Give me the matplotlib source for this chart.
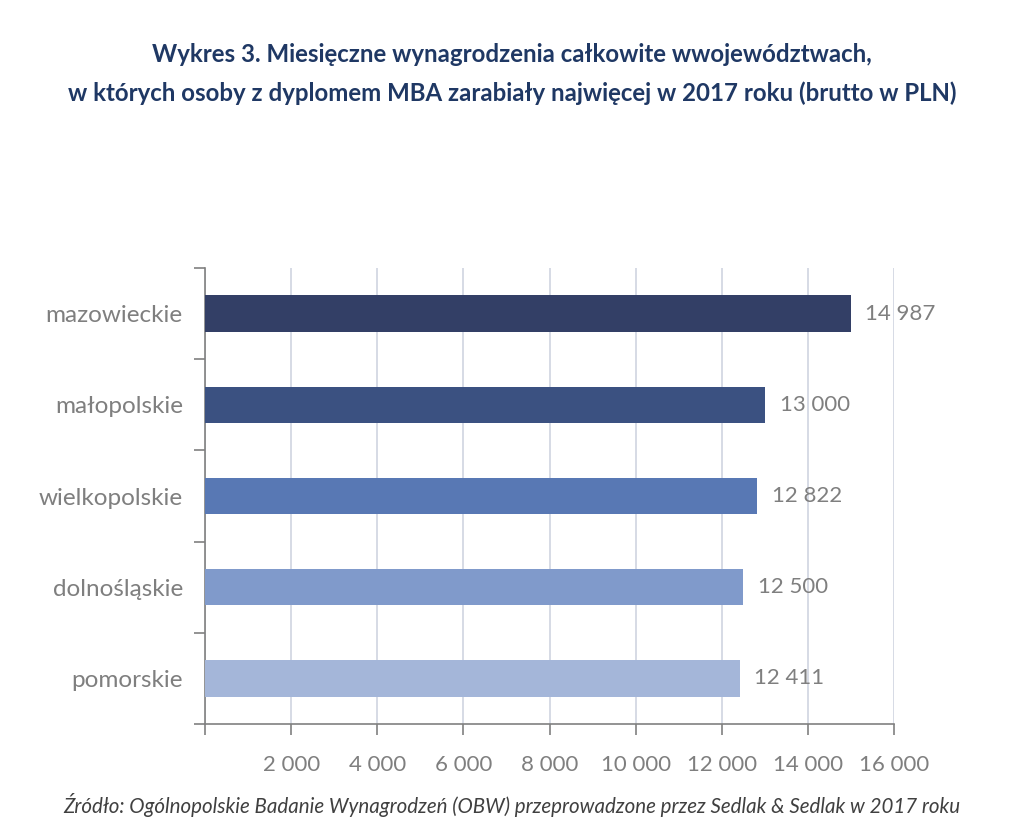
import numpy as np
import matplotlib
matplotlib.use("Agg")
import matplotlib.pyplot as plt

# data (top to bottom as shown)
regions = ['mazowieckie', 'małopolskie', 'wielkopolskie', 'dolnośląskie', 'pomorskie']
salaries = [14987, 13000, 12822, 12500, 12411]
bar_colors = ['#333f66', '#3b5181', '#5878b4', '#809acb', '#a4b6d9']
x_ticks = [0, 2000, 4000, 6000, 8000, 10000, 12000, 14000, 16000]

plt.rcParams['font.family'] = ['Lato', 'DejaVu Sans']


def fmt(v):
    return '{:,}'.format(v).replace(',', ' ')


fig = plt.figure(figsize=(10.24, 8.35), dpi=100)
ax = fig.add_axes([0.2002, 0.1329, 0.673, 0.546])

y = np.arange(len(regions))
ax.barh(y, salaries, height=0.4, color=bar_colors, zorder=3)

# value labels next to bars
for yi, v in zip(y, salaries):
    ax.text(v + 340, yi, fmt(v), va='center', ha='left', fontsize=16, color='#7f7f7f')

ax.set_xlim(0, 16000)
ax.set_ylim(len(regions) - 0.5, -0.5)

ax.set_xticks(x_ticks)
ax.set_xticklabels([fmt(t) if t else '' for t in x_ticks], fontsize=16, color='#7f7f7f')
ax.set_yticks(y)
ax.set_yticklabels(regions, fontsize=17.5, color='#7f7f7f')

# ticks at category boundaries on the y axis
ax.set_yticks(np.arange(len(regions) + 1) - 0.5, minor=True)
ax.tick_params(axis='y', which='major', length=0, pad=16)
ax.tick_params(axis='y', which='minor', length=8, width=1.2, color='#808080', direction='out')
ax.tick_params(axis='x', which='major', length=8, width=1.2, color='#808080', direction='out', pad=14)

ax.grid(axis='x', color='#d0d4e0', linewidth=1.2, zorder=0)
for s in ['top', 'right']:
    ax.spines[s].set_visible(False)
for s in ['left', 'bottom']:
    ax.spines[s].set_color('#808080')
    ax.spines[s].set_linewidth(1.2)

fig.text(0.5, 0.935, 'Wykres 3. Miesięczne wynagrodzenia całkowite wwojewództwach,',
         ha='center', va='center', fontsize=17.3, fontweight='bold', color='#1f3864')
fig.text(0.5, 0.888, 'w których osoby z dyplomem MBA zarabiały najwięcej w 2017 roku (brutto w PLN)',
         ha='center', va='center', fontsize=17.3, fontweight='bold', color='#1f3864')

fig.text(0.5, 0.036, 'Źródło: Ogólnopolskie Badanie Wynagrodzeń (OBW) przeprowadzone przez Sedlak & Sedlak w 2017 roku',
         ha='center', va='center', fontsize=14.8, style='italic', color='#404040')

fig.savefig('out.png', dpi=100)
